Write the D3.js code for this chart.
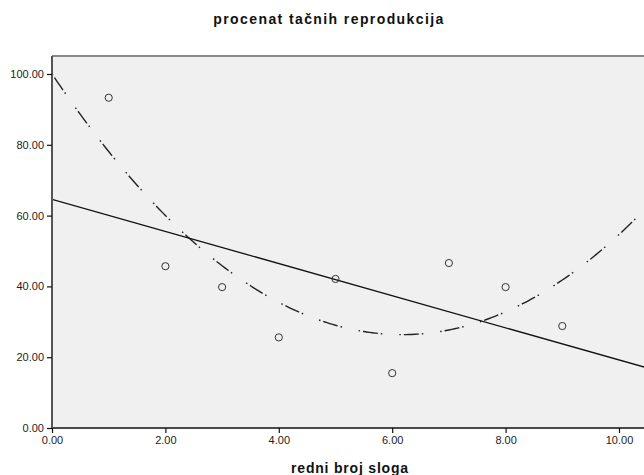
<!DOCTYPE html>
<html>
<head>
    <script src="https://d3js.org/d3.v7.min.js"></script>
    <style>
        body { margin: 0; background: #fff; }
        .tick text { font-family: "Liberation Sans", Arial, sans-serif; font-size: 11px; fill: #222; }
        .title { font-family: "Liberation Sans", Arial, sans-serif; font-weight: bold; font-size: 14px; fill: #111; }
    </style>
</head>
<body>
    <svg width="644" height="475"></svg>

    <script>
        const svg = d3.select("svg");

        // Data
        const slog = [1, 2, 3, 4, 5, 6, 7, 8, 9];
        const procenat = [93.3, 45.7, 39.8, 25.6, 42.1, 15.5, 46.6, 39.8, 28.8];
        const xTicks = [0, 2, 4, 6, 8, 10];
        const yTicks = [0, 20, 40, 60, 80, 100];

        const plotLeft = 52, plotTop = 56, plotBottom = 428;
        const x = d3.scaleLinear().domain([0, 10]).range([plotLeft, 619]);
        const y = d3.scaleLinear().domain([0, 100]).range([plotBottom, 74]);
        const xMax = x.invert(660);

        // least squares fits (linear and quadratic)
        const n = slog.length;
        const mx = d3.mean(slog), my = d3.mean(procenat);
        const sxy = d3.sum(slog, (d, i) => (d - mx) * (procenat[i] - my));
        const sxx = d3.sum(slog, d => (d - mx) ** 2);
        const b1 = sxy / sxx, b0 = my - b1 * mx;

        // quadratic via centred t = x - mx
        const t2 = d3.sum(slog, d => (d - mx) ** 2);
        const t4 = d3.sum(slog, d => (d - mx) ** 4);
        const t2y = d3.sum(slog, (d, i) => (d - mx) ** 2 * procenat[i]);
        const sy = d3.sum(procenat);
        const c = (t2y - t2 * sy / n) / (t4 - t2 * t2 / n);
        const a = (sy - t2 * c) / n;
        const quad = v => a + b1 * (v - mx) + c * (v - mx) ** 2;

        // plot background
        svg.append("defs").append("clipPath").attr("id", "clip")
            .append("rect").attr("x", plotLeft).attr("y", plotTop)
            .attr("width", 700).attr("height", plotBottom - plotTop);

        svg.append("rect")
            .attr("x", plotLeft).attr("y", plotTop)
            .attr("width", 700).attr("height", plotBottom - plotTop)
            .attr("fill", "#f0f0f0");

        svg.append("line")
            .attr("x1", plotLeft).attr("x2", 700)
            .attr("y1", plotTop).attr("y2", plotTop)
            .attr("stroke", "#888").attr("stroke-width", 2);

        const plot = svg.append("g").attr("clip-path", "url(#clip)");

        // quadratic fit, dash-dot
        const qs = d3.range(0, xMax, 0.05).map(v => [v, quad(v)]);
        plot.append("path")
            .datum(qs)
            .attr("d", d3.line().x(d => x(d[0])).y(d => y(d[1])))
            .attr("fill", "none")
            .attr("stroke", "#222")
            .attr("stroke-width", 1.4)
            .attr("stroke-dasharray", "1.5,3,15,3,1.5,17");

        // linear fit
        plot.append("line")
            .attr("x1", x(0)).attr("y1", y(b0))
            .attr("x2", x(xMax)).attr("y2", y(b0 + b1 * xMax))
            .attr("stroke", "#111")
            .attr("stroke-width", 1.3);

        // points
        plot.selectAll("circle")
            .data(slog)
            .enter().append("circle")
            .attr("cx", d => x(d))
            .attr("cy", (d, i) => y(procenat[i]))
            .attr("r", 3.6)
            .attr("fill", "none")
            .attr("stroke", "#333")
            .attr("stroke-width", 1);

        // axes
        const xAxis = svg.append("g")
            .attr("transform", `translate(0,${plotBottom})`)
            .call(d3.axisBottom(x).tickValues(xTicks).tickFormat(d3.format(".2f")).tickSizeOuter(0).tickSize(5).tickPadding(3));
        xAxis.select(".domain").attr("stroke", "#111").attr("stroke-width", 1.5)
            .attr("d", `M${plotLeft},0H700`);
        xAxis.selectAll(".tick line").attr("stroke", "#111").attr("stroke-width", 1.2);

        const yAxis = svg.append("g")
            .attr("transform", `translate(${plotLeft},0)`)
            .call(d3.axisLeft(y).tickValues(yTicks).tickFormat(d3.format(".2f")).tickSizeOuter(0).tickSize(5).tickPadding(3));
        yAxis.select(".domain").attr("stroke", "#555").attr("stroke-width", 2)
            .attr("d", `M0,${plotTop}V${plotBottom}`);
        yAxis.selectAll(".tick line").attr("stroke", "#111").attr("stroke-width", 1.2);

        // titles
        svg.append("text").attr("class", "title")
            .attr("x", 329).attr("y", 24)
            .attr("text-anchor", "middle")
            .style("letter-spacing", "1.4px")
            .text("procenat tačnih reprodukcija");

        svg.append("text").attr("class", "title")
            .attr("x", 350).attr("y", 473)
            .attr("text-anchor", "middle")
            .style("letter-spacing", "0.8px")
            .text("redni broj sloga");
    </script>
</body>
</html>
